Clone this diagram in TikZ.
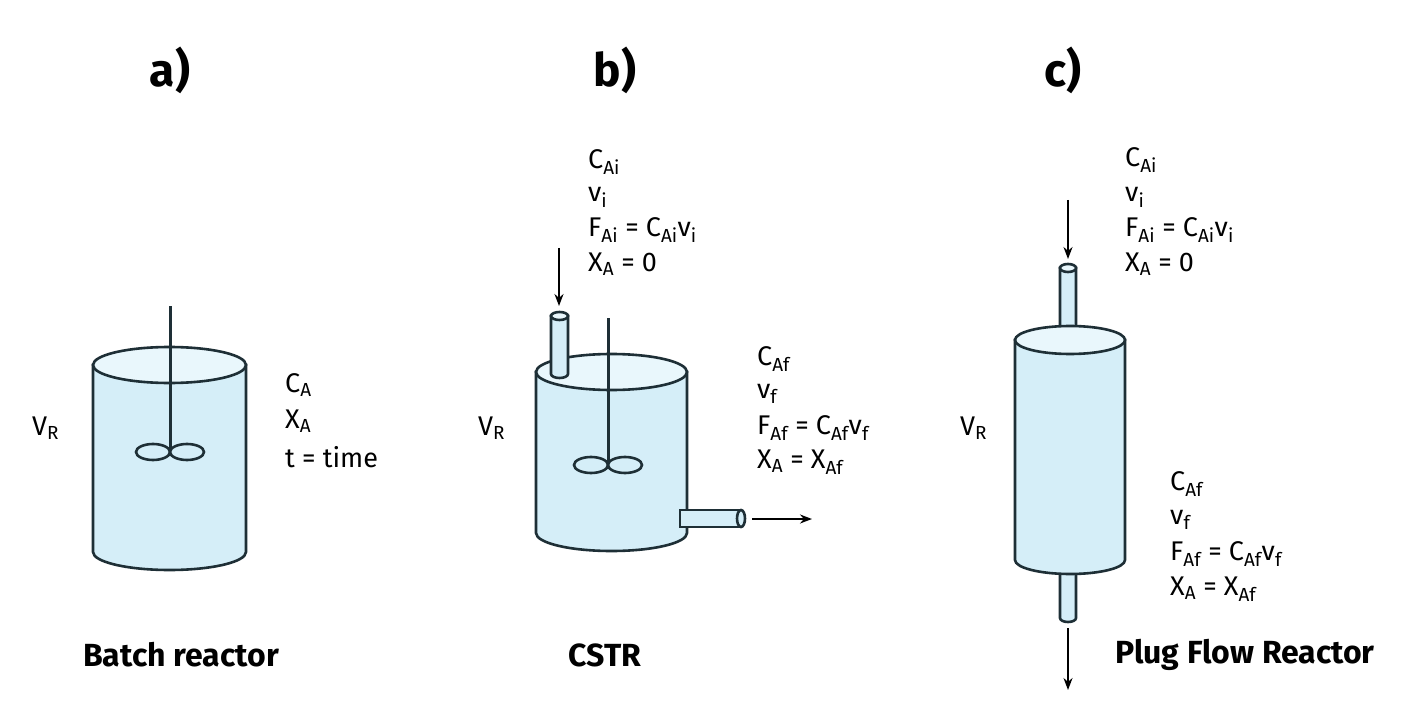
\documentclass[tikz,border=0pt]{standalone}
\usepackage{fontspec}
\setmainfont{Fira Sans}
\usetikzlibrary{arrows.meta, positioning}
\definecolor{tankline}{HTML}{1E2F36}
\definecolor{tankfill}{HTML}{D5EEF8}
\definecolor{tanktop}{HTML}{E9F7FC}

% vertical cylinder: left x, right x, top y, bottom y, y radius
\newcommand{\vessel}[5]{%
  \pgfmathsetmacro{\rxv}{(#2-#1)/2}%
  \filldraw[tankbody] (#1,#3) -- (#1,#4) arc[start angle=180, end angle=0, x radius=\rxv, y radius=#5] -- (#2,#3) -- cycle;
  \filldraw[tankbody, fill=tanktop] ({(#1+#2)/2},#3) ellipse[x radius=\rxv, y radius=#5];
}

\tikzset{
  tankbody/.style={draw=tankline, fill=tankfill, line width=2.6pt},
  lbl/.style={anchor=west, inner sep=0pt, font=\fontsize{27}{30}\selectfont},
  ttl/.style={font=\fontsize{46}{50}\selectfont\bfseries},
  rname/.style={font=\fontsize{32}{36}\selectfont\bfseries},
  flow/.style={-{Stealth[length=12pt, width=9pt]}, line width=1.8pt, draw=black},
  shaft/.style={line width=3pt, draw=tankline},
  blade/.style={draw=tankline, fill=tankfill, line width=2.6pt}
}

\begin{document}
\begin{tikzpicture}[x=1pt, y=-1pt]
  \useasboundingbox[fill=white] (0,0) rectangle (1418,727);

  % titles
  \node[ttl] (ta) at (170,70) {a)};
  \node[ttl] (tb) at (615,70) {b)};
  \node[ttl] (tc) at (1063,70) {c)};

  % a) batch reactor
  \vessel{93}{246}{365}{552}{18}
  \draw[shaft] (170,306) -- (170,450);
  \filldraw[blade] (153,452) ellipse[x radius=17, y radius=8];
  \filldraw[blade] (187,452) ellipse[x radius=17, y radius=8];
  \node[lbl] (vra) at (32,428) {V\textsubscript{R}};
  \node[lbl] (ca) at (285,385) {C\textsubscript{A}};
  \node[lbl] (xa) at (285,421) {X\textsubscript{A}};
  \node[lbl] (ta2) at (285,457) {t = time};
  \node[rname] (na) at (181,655) {Batch reactor};

  % b) CSTR
  \vessel{536}{687}{372}{533}{18}
  \vessel{551}{568}{316}{374}{4}
  \draw[shaft] (608,318) -- (608,462);
  \filldraw[blade] (591,465) ellipse[x radius=17, y radius=8];
  \filldraw[blade] (625,465) ellipse[x radius=17, y radius=8];
  % outlet tube
  \filldraw[tankbody] (680,510) rectangle (741,527);
  \filldraw[tankbody] (741,518.5) ellipse[x radius=4, y radius=8.5];
  \coordinate (inb1) at (559,248);
  \coordinate (inb2) at (559,306);
  \coordinate (outb1) at (752,519);
  \coordinate (outb2) at (812,519);
  \draw[flow] (inb1) -- (inb2);
  \draw[flow] (outb1) -- (outb2);
  \node[lbl] (vrb) at (478,428) {V\textsubscript{R}};
  \node[lbl] (cib) at (588,162) {C\textsubscript{Ai}};
  \node[lbl] (vib) at (588,197) {v\textsubscript{i}};
  \node[lbl] (fib) at (588,230) {F\textsubscript{Ai} = C\textsubscript{Ai}v\textsubscript{i}};
  \node[lbl] (xib) at (588,264) {X\textsubscript{A} = 0};
  \node[lbl] (cfb) at (757,359) {C\textsubscript{Af}};
  \node[lbl] (vfb) at (757,394) {v\textsubscript{f}};
  \node[lbl] (ffb) at (757,428) {F\textsubscript{Af} = C\textsubscript{Af}v\textsubscript{f}};
  \node[lbl] (xfb) at (757,462) {X\textsubscript{A} = X\textsubscript{Af}};
  \node[rname] (nb) at (605,655) {CSTR};

  % c) plug flow reactor
  \vessel{1060}{1076}{268}{330}{4}
  \vessel{1060}{1076}{550}{618}{4}
  \vessel{1015}{1125}{340}{560}{14}
  \coordinate (inc1) at (1068,200);
  \coordinate (inc2) at (1068,259);
  \coordinate (outc1) at (1068,628);
  \coordinate (outc2) at (1068,690);
  \draw[flow] (inc1) -- (inc2);
  \draw[flow] (outc1) -- (outc2);
  \node[lbl] (vrc) at (960,428) {V\textsubscript{R}};
  \node[lbl] (cic) at (1125,160) {C\textsubscript{Ai}};
  \node[lbl] (vic) at (1125,197) {v\textsubscript{i}};
  \node[lbl] (fic) at (1125,230) {F\textsubscript{Ai} = C\textsubscript{Ai}v\textsubscript{i}};
  \node[lbl] (xic) at (1125,264) {X\textsubscript{A} = 0};
  \node[lbl] (cfc) at (1170,484) {C\textsubscript{Af}};
  \node[lbl] (vfc) at (1170,520) {v\textsubscript{f}};
  \node[lbl] (ffc) at (1170,554) {F\textsubscript{Af} = C\textsubscript{Af}v\textsubscript{f}};
  \node[lbl] (xfc) at (1170,589) {X\textsubscript{A} = X\textsubscript{Af}};
  \node[rname] (nc) at (1245,655) {Plug Flow Reactor};
\end{tikzpicture}
\end{document}
